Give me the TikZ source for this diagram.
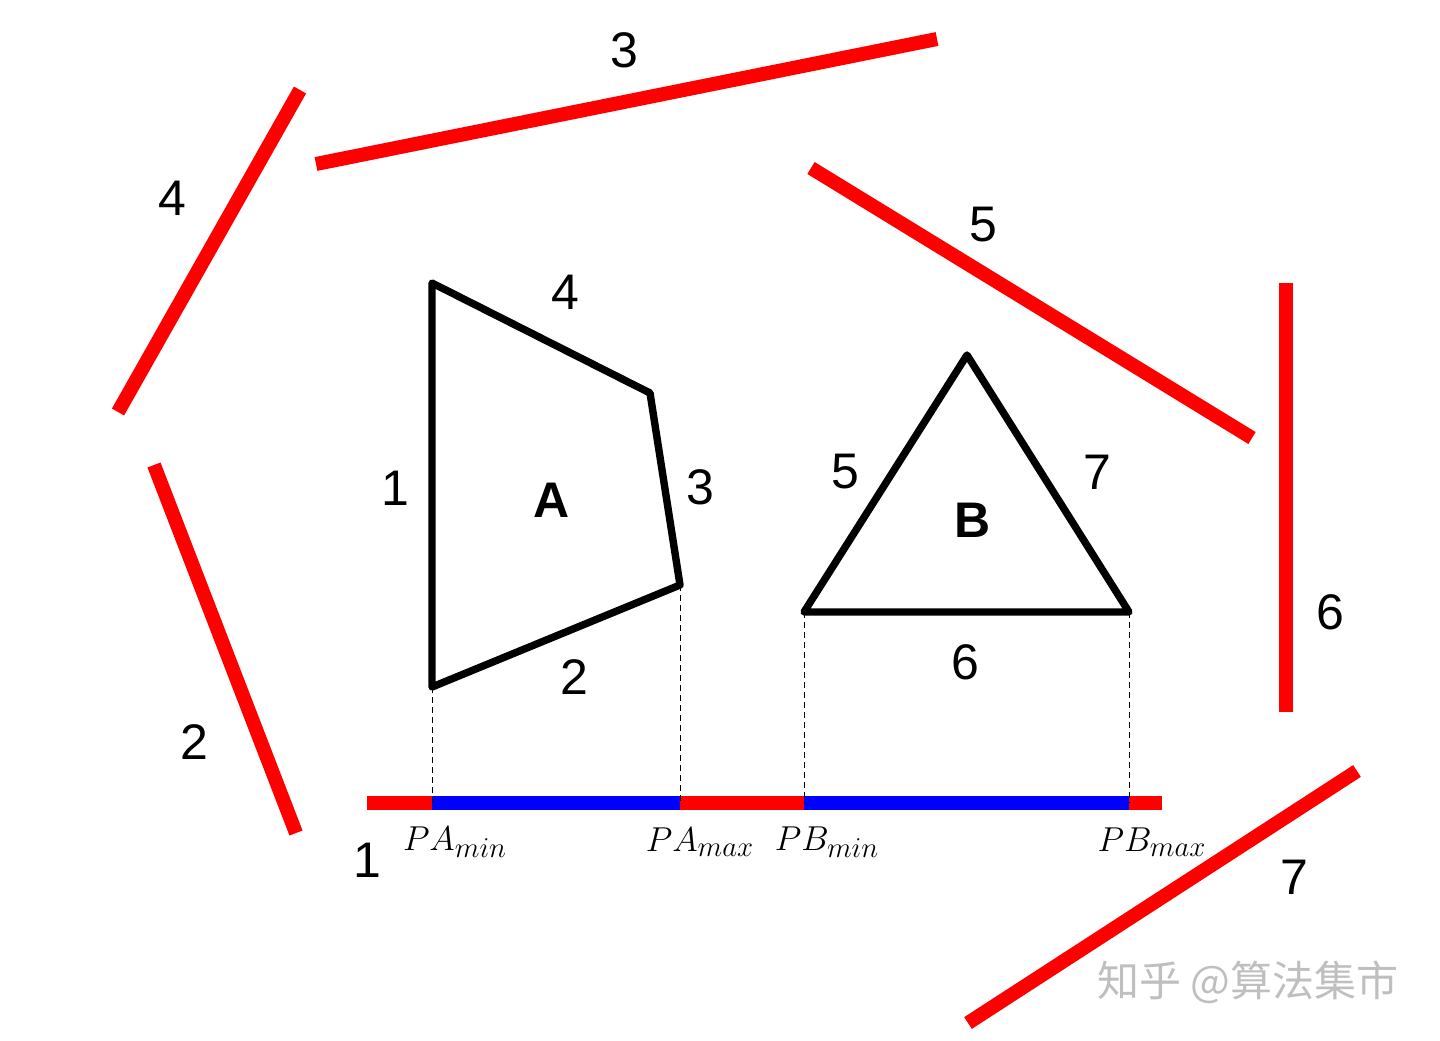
\documentclass[tikz,border=0pt]{standalone}
\usepackage{fontspec}
\setmainfont{Liberation Sans}
\newfontfamily\cjk{Noto Sans CJK SC}
\DeclareMathSizes{18}{18}{14.5}{11}
\usetikzlibrary{positioning}

\begin{document}
\begin{tikzpicture}[x=0.5pt, y=-0.5pt,
  edge/.style={red, line width=7pt},
  hit/.style={blue, line width=7pt},
  outline/.style={black, line width=3.7pt, line join=round},
  proj/.style={black, dash pattern=on 3pt off 2pt, line width=0.5pt},
  num/.style={font=\fontsize{25}{30}\selectfont},
  axis label/.style={font=\fontsize{18}{21}\selectfont}]

  \useasboundingbox (0,0) rectangle (1440,1040);

  % Define corners of A and B
  \coordinate (a1) at (432,283);
  \coordinate (a2) at (650,393);
  \coordinate (a3) at (680,585);
  \coordinate (a4) at (432,687);
  \coordinate (b1) at (967,355);
  \coordinate (b2) at (1129,612);
  \coordinate (b3) at (804,612);

  % Define the axis (edge 1) and the projections
  \coordinate (l0) at (367,803);
  \coordinate (l1) at (1162,803);
  \coordinate (pamin) at (a4 |- l0);
  \coordinate (pamax) at (a3 |- l0);
  \coordinate (pbmin) at (b3 |- l0);
  \coordinate (pbmax) at (b2 |- l0);

  % Define the edge normals
  \coordinate (e4s) at (300,90);   \coordinate (e4e) at (118,412);
  \coordinate (e3s) at (316,164);  \coordinate (e3e) at (937,39);
  \coordinate (e5s) at (811,168);  \coordinate (e5e) at (1252,438);
  \coordinate (e6s) at (1286,283); \coordinate (e6e) at (1286,712);
  \coordinate (e7s) at (1357,771); \coordinate (e7e) at (968,1023);
  \coordinate (e2s) at (154,465);  \coordinate (e2e) at (296,833);

  \draw[edge] (e4s) -- (e4e);
  \draw[edge] (e3s) -- (e3e);
  \draw[edge] (e5s) -- (e5e);
  \draw[edge] (e6s) -- (e6e);
  \draw[edge] (e7s) -- (e7e);
  \draw[edge] (e2s) -- (e2e);

  \draw[edge] (l0) -- (l1);
  \draw[hit] (pamin) -- (pamax);
  \draw[hit] (pbmin) -- (pbmax);

  \draw[proj] (a4) -- (pamin);
  \draw[proj] (a3) -- (pamax);
  \draw[proj] (b3) -- (pbmin);
  \draw[proj] (b2) -- (pbmax);

  \draw[outline] (a1) -- (a2) -- (a3) -- (a4) -- cycle;
  \draw[outline] (b1) -- (b2) -- (b3) -- cycle;

  % Define labels
  \node[num] (n4) at (172,198) {4};
  \node[num] (n3) at (624,50) {3};
  \node[num] (n5) at (983,225) {5};
  \node[num] (n6) at (1330,612) {6};
  \node[num] (n7) at (1294,877) {7};
  \node[num] (n2) at (194,742) {2};
  \node[num] (n1) at (367,860) {1};

  \node[num] (a4l) at (565,292) {4};
  \node[num] (a1l) at (395,488) {1};
  \node[num] (a3l) at (700,487) {3};
  \node[num] (a2l) at (574,677) {2};
  \node[num, font=\fontsize{25}{30}\bfseries] (A) at (552,500) {A};

  \node[num] (b5l) at (845,472) {5};
  \node[num] (b7l) at (1097,472) {7};
  \node[num] (b6l) at (965,662) {6};
  \node[num, font=\fontsize{25}{30}\bfseries] (B) at (973,520) {B};

  \node[axis label] (tpamin) at (455,842) {$PA_{min}$};
  \node[axis label] (tpamax) at (700,842) {$PA_{max}$};
  \node[axis label] (tpbmin) at (827,842) {$PB_{min}$};
  \node[axis label] (tpbmax) at (1152,842) {$PB_{max}$};

  \node[text=black!25, font=\cjk\fontsize{21}{24}\selectfont] (mark) at (1248,982) {知乎 @算法集市};
\end{tikzpicture}
\end{document}
